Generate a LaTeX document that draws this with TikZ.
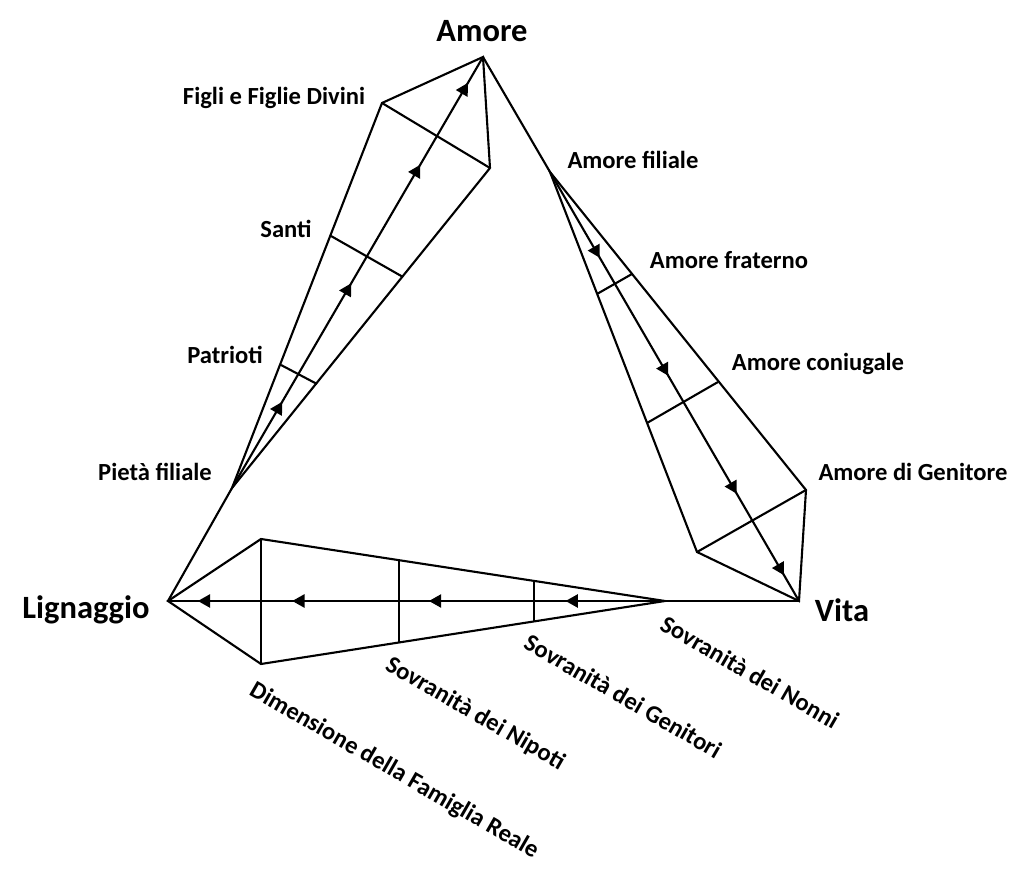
\documentclass[tikz,border=0pt]{standalone}
\usepackage{fontspec}
\setmainfont{Carlito}
\usetikzlibrary{arrows.meta, decorations.markings}
\newcommand{\lblsmall}{\fontsize{14}{16}\selectfont\bfseries}
\newcommand{\lblbig}{\fontsize{18.5}{21}\selectfont\bfseries}
\tikzset{
  flow/.style={postaction={decorate},decoration={markings,
    mark=at position 0.20 with {\arrow{Triangle[length=7pt,width=7.5pt]}},
    mark=at position 0.475 with {\arrow{Triangle[length=7pt,width=7.5pt]}},
    mark=at position 0.75 with {\arrow{Triangle[length=7pt,width=7.5pt]}},
    mark=at position 0.94 with {\arrow{Triangle[length=7pt,width=7.5pt]}}}},
  side/.style={line width=1.2pt, line join=miter},
  sov/.style={rotate=-30, inner sep=0pt}
}

\begin{document}
\begin{tikzpicture}[x=0.02cm, y=-0.02cm, side]
\useasboundingbox (0,0) rectangle (1025,874);
%\draw[step=50,gray,very thin] (0,0) grid (1025,874); %background grid
\coordinate (A) at (483,57);
\coordinate (L) at (168,601);
\coordinate (V) at (799,601);
% Amore side
\coordinate (P) at (232,488);
\coordinate (F) at (382,103);
\coordinate (R) at (490,168);
\coordinate (s1) at (331,236); \coordinate (s2) at (403,277);
\coordinate (p1) at (281,365); \coordinate (p2) at (317,384);
% Vita side
\coordinate (Q) at (550,172);
\coordinate (G) at (806,490);
\coordinate (D) at (697,552);
\coordinate (f1) at (597,294); \coordinate (f2) at (632,274);
\coordinate (c1) at (647,423); \coordinate (c2) at (718,382);
% Lignaggio side
\coordinate (S) at (665,601);
\coordinate (T) at (261,539);
\coordinate (B) at (261,664);
\coordinate (n1) at (399,560); \coordinate (n2) at (399,642);
\coordinate (g1) at (534,581); \coordinate (g2) at (534,621);

\draw (L) -- (P);
\draw[flow] (P) -- (A);
\draw (P) -- (F) -- (A) -- (R) -- cycle;
\draw (F) -- (R);
\draw (s1) -- (s2);
\draw (p1) -- (p2);

\draw (A) -- (Q);
\draw[flow] (Q) -- (V);
\draw (Q) -- (G) -- (V) -- (D) -- cycle;
\draw (D) -- (G);
\draw (f1) -- (f2);
\draw (c1) -- (c2);

\draw (V) -- (S);
\draw[flow] (S) -- (L);
\draw (S) -- (T) -- (L) -- (B) -- cycle;
\draw (T) -- (B);
\draw (n1) -- (n2);
\draw (g1) -- (g2);

\node (amore) at (482,31) {\lblbig Amore};
\node (lign) at (86,610) {\lblbig Lignaggio};
\node (vita) at (842,610) {\lblbig Vita};

\node (figli) at (274,98) {\lblsmall Figli e Figlie Divini};
\node (santi) at (286,229) {\lblsmall Santi};
\node (patr) at (225,355) {\lblsmall Patrioti};
\node (pieta) at (155,472) {\lblsmall Pietà filiale};

\node (afil) at (633,160) {\lblsmall Amore filiale};
\node (afra) at (729,260) {\lblsmall Amore fraterno};
\node (acon) at (818,364) {\lblsmall Amore coniugale};
\node (agen) at (913,472) {\lblsmall Amore di Genitore};

\node[sov] (nonni) at (750,672) {\lblsmall Sovranità dei Nonni};
\node[sov] (genit) at (623,696) {\lblsmall Sovranità dei Genitori};
\node[sov] (nipoti) at (475,714) {\lblsmall Sovranità dei Nipoti};
\node[sov] (dimens) at (394,771) {\lblsmall Dimensione della Famiglia Reale};
\end{tikzpicture}
\end{document}
